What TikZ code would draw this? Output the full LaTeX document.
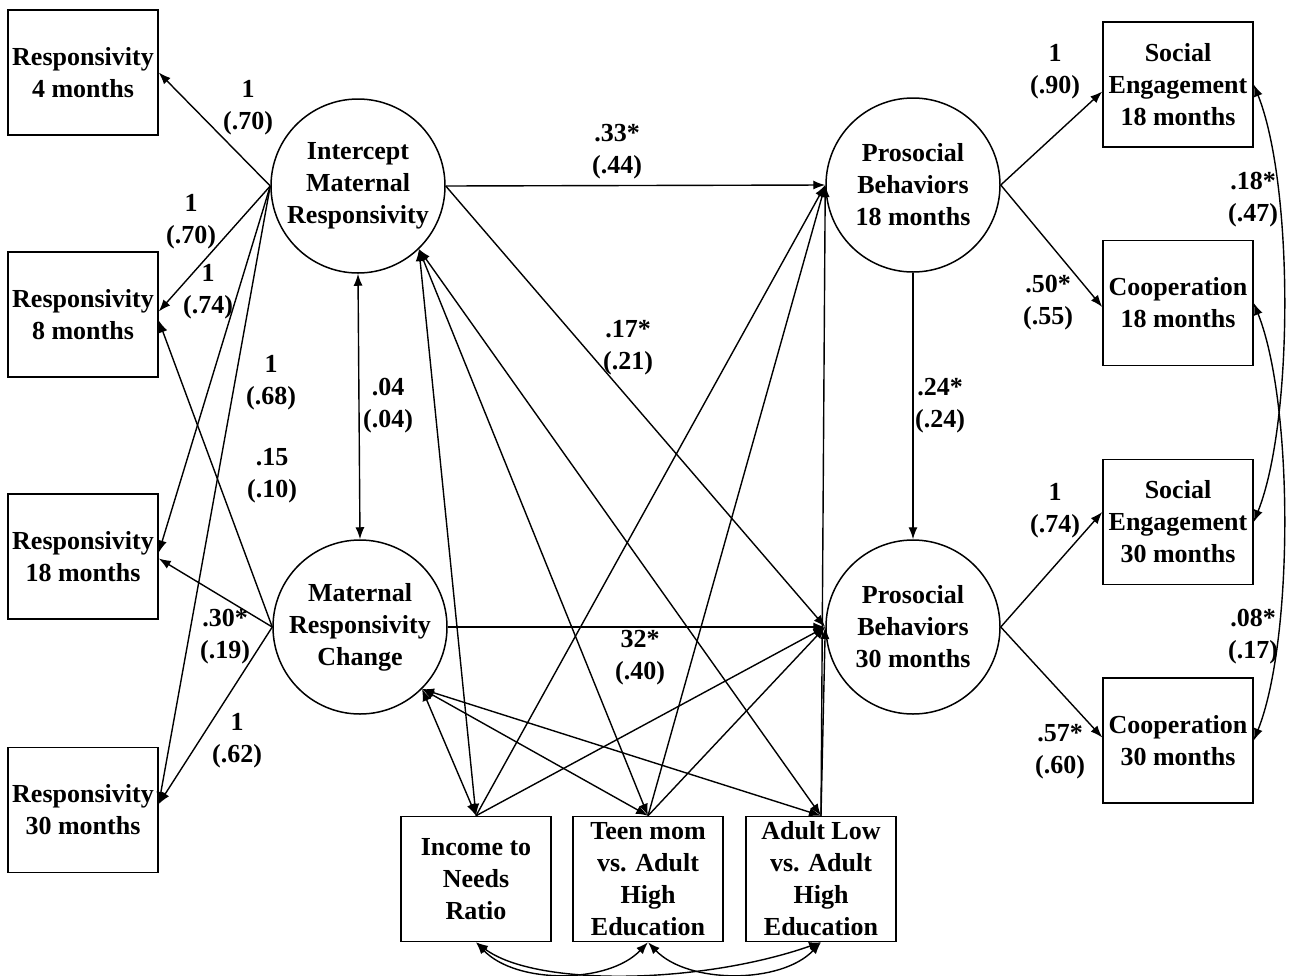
\documentclass[tikz,border=0pt]{standalone}
\usepackage{fontspec}
\setmainfont{Liberation Serif}
\usetikzlibrary{arrows.meta}
\tikzset{
  obsbox/.style={draw, line width=1.5pt, minimum width=150pt, minimum height=125pt, inner sep=0pt, align=center},
  latcirc/.style={draw, circle, line width=1.5pt, minimum size=174pt, inner sep=0pt, align=center},
  coef/.style={align=center, inner sep=0pt},
  pth/.style={line width=1.4pt, -{Latex[length=12pt,width=9pt]}},
  cov/.style={line width=1.4pt, {Latex[length=12pt,width=9pt]}-{Latex[length=12pt,width=9pt]}},
}
\begin{document}
\begin{tikzpicture}[x=1pt,y=-1pt,font={\fontsize{26}{32}\selectfont\bfseries}]
	\useasboundingbox (0,0) rectangle (1293,975);

	% maternal responsivity indicators
	\node[obsbox] (r4) at (83,72.5) {Responsivity\\4 months};
	\node[obsbox] (r8) at (83,314.5) {Responsivity\\8 months};
	\node[obsbox] (r18) at (83,556.5) {Responsivity\\18 months};
	\node[obsbox] (r30) at (83,810) {Responsivity\\30 months};

	% latent factors
	\node[latcirc] (int) at (358,186) {Intercept\\Maternal\\Responsivity};
	\node[latcirc] (chg) at (360,627) {Maternal\\Responsivity\\Change};
	\node[latcirc] (p18) at (913,185) {Prosocial\\Behaviors\\18 months};
	\node[latcirc] (p30) at (913,627) {Prosocial\\Behaviors\\30 months};

	% prosocial indicators
	\node[obsbox] (se18) at (1178,84.5) {Social\\Engagement\\18 months};
	\node[obsbox] (co18) at (1178,303) {Cooperation\\18 months};
	\node[obsbox] (se30) at (1178,522) {Social\\Engagement\\30 months};
	\node[obsbox] (co30) at (1178,740.5) {Cooperation\\30 months};

	% covariates
	\node[obsbox] (inc) at (476,879) {Income to\\Needs\\Ratio};
	\node[obsbox] (teen) at (648,879) {Teen mom\\vs. Adult\\High\\Education};
	\node[obsbox] (adl) at (821,879) {Adult Low\\vs. Adult\\High\\Education};

	% loadings
	\draw[pth] (int.west) -- (r4.east);
	\draw[pth] (int.west) -- ([yshift=3pt]r8.east);
	\draw[pth] (int.west) -- ([yshift=4pt]r18.east);
	\draw[pth] (int.west) -- ([yshift=6pt]r30.east);
	\draw[pth] (chg.west) -- ([yshift=-6pt]r8.east);
	\draw[pth] (chg.west) -- ([yshift=-2pt]r18.east);
	\draw[pth] (chg.west) -- ([yshift=6pt]r30.east);
	\draw[cov] (int.south) -- (chg.north);

	% structural paths
	\draw[pth] (int.east) -- (p18.west);
	\draw[pth] (int.east) -- (p30.west);
	\draw[pth] (chg.east) -- (p30.west);
	\draw[pth] (p18.south) -- (p30.north);
	\draw[pth] (p18.east) -- ([yshift=-7pt]se18.west);
	\draw[pth] (p18.east) -- ([yshift=-4pt]co18.west);
	\draw[pth] (p30.east) -- ([yshift=10pt]se30.west);
	\draw[pth] (p30.east) -- ([yshift=3pt]co30.west);
	\draw[cov] (se18.east) .. controls +(40,100) and +(40,-100) .. (se30.east);
	\draw[cov] (co18.east) .. controls +(40,100) and +(40,-100) .. (co30.east);

	% covariate paths
	\draw[cov] (int.-46) -- (inc.north);
	\draw[cov] (int.-46) -- (teen.north);
	\draw[cov] (int.-46) -- (adl.north);
	\draw[cov] (chg.-45) -- (inc.north);
	\draw[cov] (chg.-45) -- (teen.north);
	\draw[cov] (chg.-45) -- (adl.north);
	\draw[pth] (inc.north) -- (p18.west);
	\draw[pth] (inc.north) -- (p30.west);
	\draw[pth] (teen.north) -- (p18.west);
	\draw[pth] (teen.north) -- (p30.west);
	\draw[pth] (adl.north) -- (p18.west);
	\draw[pth] (adl.north) -- (p30.west);
	\draw[cov] (inc.south) .. controls +(40,42) and +(-40,42) .. (teen.south);
	\draw[cov] (teen.south) .. controls +(40,42) and +(-40,42) .. (adl.south);
	\draw[cov] (inc.south) .. controls +(60,45) and +(-120,42) .. (adl.south);

	% estimates
	\node[coef] (l1) at (248,108) {1\\(.70)};
	\node[coef] (l2) at (191,222) {1\\(.70)};
	\node[coef] (l3) at (208,292) {1\\(.74)};
	\node[coef] (l4) at (271,383) {1\\(.68)};
	\node[coef] (l5) at (272,476) {.15\\(.10)};
	\node[coef] (l6) at (225,637) {.30*\\(.19)};
	\node[coef] (l7) at (237,741) {1\\(.62)};
	\node[coef] (l8) at (388,406) {.04\\(.04)};
	\node[coef] (l9) at (617,152) {.33*\\(.44)};
	\node[coef] (l10) at (628,348) {.17*\\(.21)};
	\node[coef] (l11) at (640,658) {32*\\(.40)};
	\node[coef] (l12) at (940,406) {.24*\\(.24)};
	\node[coef] (l13) at (1055,72) {1\\(.90)};
	\node[coef] (l14) at (1048,303) {.50*\\(.55)};
	\node[coef] (l15) at (1055,511) {1\\(.74)};
	\node[coef] (l16) at (1060,752) {.57*\\(.60)};
	\node[coef] (l17) at (1253,200) {.18*\\(.47)};
	\node[coef] (l18) at (1253,637) {.08*\\(.17)};
\end{tikzpicture}
\end{document}
